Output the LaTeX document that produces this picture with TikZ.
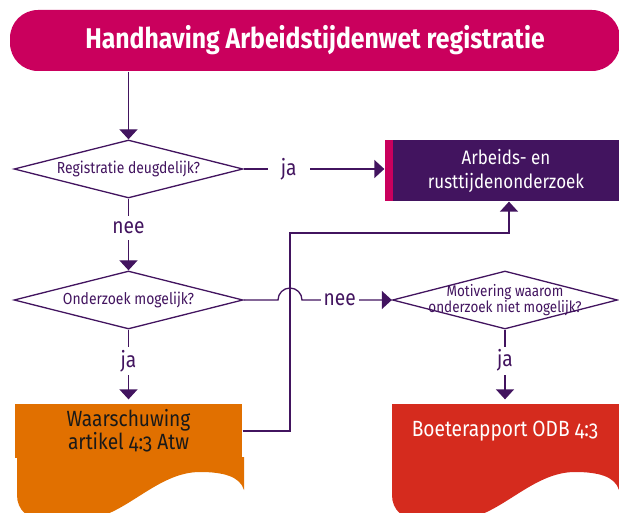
\documentclass[tikz,border=0pt]{standalone}
\usepackage{fontspec}
\setmainfont{Fira Sans}[FakeStretch=0.87,Numbers=OldStyle]
\usetikzlibrary{shapes.geometric,arrows.meta,positioning}
\definecolor{paars}{HTML}{42145F}
\definecolor{robijn}{HTML}{CA005D}
\definecolor{oranje}{HTML}{E17000}
\definecolor{rood}{HTML}{D52B1E}

\begin{document}
\begin{tikzpicture}[x=1pt, y=-1pt, line width=1.3pt, >={Triangle[width=18pt,length=10pt]}]

% Styles
\tikzstyle{titel}    = [rectangle, rounded corners=28pt, fill=robijn, text=white, minimum width=610pt, minimum height=61pt, font=\fontsize{28.5}{30}\selectfont\bfseries]
\tikzstyle{decision} = [diamond, aspect=3.95, draw=paars, minimum width=229pt, minimum height=58pt, inner sep=0pt, text=paars, font=\fontsize{16}{17}\selectfont]
\tikzstyle{block}    = [rectangle, fill=paars, text=white, minimum width=234pt, minimum height=61pt, align=center, font=\fontsize{19.5}{24}\selectfont]
\tikzstyle{doc}      = [rectangle, minimum width=227pt, minimum height=54pt, inner sep=0pt, align=center, font=\fontsize{22}{23}\selectfont]
\tikzstyle{lbl}      = [fill=white, text=paars, inner sep=3pt, font=\fontsize{22}{24}\selectfont]

\useasboundingbox (0,0) rectangle (619,513);

% Nodes
\node [titel] (title) at (315,40.5) {Handhaving Arbeidstijdenwet registratie};
\node [decision] (regis) at (128.5,169) {Registratie deugdelijk?};
\node [decision, below of=regis, node distance=131pt] (mogelijk) {Onderzoek mogelijk?};
\node [doc, fill=oranje, text=black!90, below of=mogelijk, node distance=131pt] (waarsch) {Waarschuwing\\artikel 4:3 Atw};
\node [block, path picture={\fill[robijn] (path picture bounding box.north west) rectangle ([xshift=8pt]path picture bounding box.south west);}] (onderzoek) at (502,170.5) {\hspace{8pt}Arbeids- en\\\hspace{8pt}rusttijdenonderzoek};
\node [decision, minimum width=225pt, label={[text=paars, align=center, font=\fontsize{15.5}{16}\selectfont]center:{Motivering waarom\\onderzoek niet mogelijk?}}] (motiv) at (505,300) {};
\node [doc, fill=rood, text=white, below of=motiv, node distance=131pt] (boete) {Boeterapport ODB 4:3};

% Wavy bottoms
\foreach \dx/\c in {0/oranje, 375/rood}
  \fill [\c, xshift=\dx pt] (17,457) -- (244,457) -- (244,490)
    .. controls (240,476) and (222,472) .. (200,472)
    .. controls (160,472) and (130,510) .. (95,518) -- (45,520)
    .. controls (28,520) and (17,510) .. (17,495) -- cycle;

% Riser to the onderzoek
\coordinate (riser) at (290,233);

% Connections
\begin{scope}[draw=paars]
\draw [->] (regis |- title.south) -- (regis);
\draw [->] (regis) -- node [lbl, pos=0.32, inner xsep=13pt] {ja} (regis -| onderzoek.west);
\draw [->] (regis) -- node [lbl, pos=0.41, inner ysep=6pt] {nee} (mogelijk);
\draw [->, shorten >=4pt] (mogelijk) -- node [lbl, pos=0.43] {ja} (waarsch);
\draw [->, shorten >=4pt] (motiv) -- node [lbl, pos=0.42] {ja} (boete);
\draw [->] (waarsch.east) -| (riser) -| ([xshift=7pt]onderzoek.south);
\draw [->] (mogelijk.east) -- ([xshift=-12pt]riser |- mogelijk.east)
  .. controls +(0,-6.6) and +(-6.6,0) .. ++(12,-12)
  .. controls +(6.6,0) and +(0,-6.6) .. ++(12,12)
  -- node [lbl, pos=0.42, inner xsep=3pt] {nee} (motiv.west);
\end{scope}

\end{tikzpicture}
\end{document}
